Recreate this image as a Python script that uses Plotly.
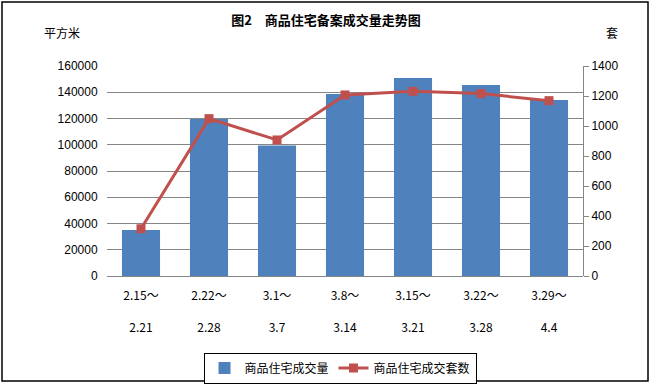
import plotly.graph_objects as go

categories_top = ["2.15～", "2.22～", "3.1～", "3.8～", "3.15～", "3.22～", "3.29～"]
categories_bottom = ["2.21", "2.28", "3.7", "3.14", "3.21", "3.28", "4.4"]
area_values = [35000, 119700, 99500, 138700, 150900, 145500, 134100]
units_values = [315, 1049, 907, 1207, 1231, 1216, 1169]
left_ticks = [0, 20000, 40000, 60000, 80000, 100000, 120000, 140000, 160000]
right_ticks = [0, 200, 400, 600, 800, 1000, 1200, 1400]

cats = [f"{a}<br><br>{b}" for a, b in zip(categories_top, categories_bottom)]

W, H = 652, 386
L, R, T, B = 107, 583, 66, 276

def px(x):
    return (x - L) / (R - L)

def py(y):
    return (B - y) / (B - T)

font_fam = "Liberation Sans, Noto Sans CJK SC, sans-serif"
cjk = "Noto Sans CJK SC, sans-serif"

fig = go.Figure()
fig.add_trace(go.Bar(
    x=cats, y=area_values, name="商品住宅成交量",
    marker=dict(color="#4F81BD", line=dict(width=0)),
    yaxis="y",
))
fig.add_trace(go.Scatter(
    x=cats, y=units_values, name="商品住宅成交套数",
    mode="lines+markers",
    line=dict(color="#C0504D", width=3),
    marker=dict(symbol="square", size=9, color="#C0504D"),
    yaxis="y2",
))

fig.update_layout(
    width=W, height=H,
    margin=dict(l=L, r=W - R, t=T, b=H - B, autoexpand=False),
    paper_bgcolor="white", plot_bgcolor="white",
    bargap=0.44,
    showlegend=True,
    font=dict(family=cjk, size=12, color="black"),
    title=dict(text="<b>图2　商品住宅备案成交量走势图</b>", x=0.5, xref="container",
               y=1 - 20 / H, yref="container", xanchor="center", yanchor="middle",
               font=dict(family=cjk, size=13, color="black")),
    xaxis=dict(showgrid=False, showline=False, zeroline=False,
               ticks="outside", ticklen=9, tickcolor="rgba(0,0,0,0)",
               automargin=False,
               tickfont=dict(family=cjk, size=12, color="black"),
               range=[-0.5, 6.5]),
    yaxis=dict(range=[0, 160000], tickvals=left_ticks, showgrid=True,
               automargin=False, exponentformat="none", separatethousands=False,
               tickformat="d",
               gridcolor="#868686", gridwidth=1, zeroline=True, zerolinecolor="#868686",
               zerolinewidth=1, showline=False,
               ticks="outside", ticklen=6, tickcolor="rgba(0,0,0,0)",
               tickfont=dict(family=font_fam, size=12, color="black")),
    yaxis2=dict(range=[0, 1400], tickvals=right_ticks, overlaying="y", side="right",
                automargin=False, tickformat="d",
                showgrid=False, zeroline=False, showline=True, linecolor="#868686",
                linewidth=1, ticks="outside", ticklen=5, tickcolor="#868686",
                tickfont=dict(family=font_fam, size=12, color="black")),
    legend=dict(orientation="h", x=px(340), xanchor="center", y=py(368), yanchor="middle",
                bordercolor="black", borderwidth=1, bgcolor="white",
                font=dict(family=cjk, size=12, color="black"),
                itemwidth=30, tracegroupgap=0),
    annotations=[
        dict(text="平方米", x=px(62), y=py(33), xref="paper", yref="paper",
             xanchor="center", yanchor="middle",
             showarrow=False, font=dict(family=cjk, size=12, color="black")),
        dict(text="套", x=px(612), y=py(33), xref="paper", yref="paper",
             xanchor="center", yanchor="middle",
             showarrow=False, font=dict(family=cjk, size=12, color="black")),
    ],
    shapes=[
        dict(type="rect", xref="paper", yref="paper",
             x0=px(2), x1=px(648), y0=py(381), y1=py(2),
             line=dict(color="black", width=1.5), fillcolor="rgba(0,0,0,0)"),
    ],
)

fig.write_html("out.html", config={"displayModeBar": False},
               post_script="document.body.style.margin='0';document.body.style.overflow='hidden';")
